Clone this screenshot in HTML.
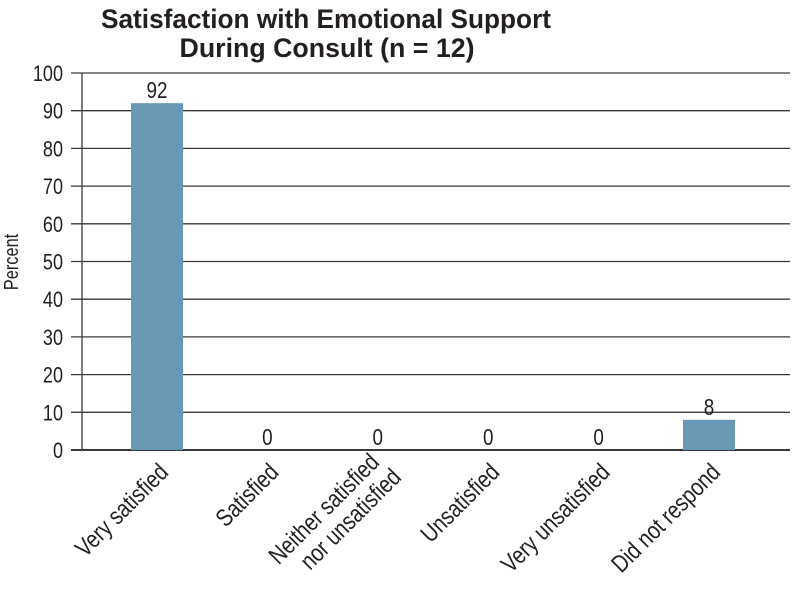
<!DOCTYPE html>
<html><head><meta charset="utf-8"><style>
body{margin:0;background:#fff;}
svg{display:block;font-family:"Liberation Sans",sans-serif;}
</style></head><body>
<svg id="chart" width="800" height="601" viewBox="0 0 800 601">
<g font-family="Liberation Sans, sans-serif" font-weight="bold" font-size="27" fill="#231f20" text-anchor="middle">
<text x="326" y="28" textLength="450" lengthAdjust="spacingAndGlyphs">Satisfaction with Emotional Support</text>
<text x="327" y="57" textLength="295" lengthAdjust="spacingAndGlyphs">During Consult (n = 12)</text>
</g>
<text transform="translate(18,262) rotate(-90) scale(0.82,1)" text-anchor="middle" font-size="20" fill="#231f20">Percent</text>
<g id="grid"></g><g id="bars"></g><g id="labels"></g>
</svg>
<script>
const categories=[["Very satisfied"],["Satisfied"],["Neither satisfied","nor unsatisfied"],["Unsatisfied"],["Very unsatisfied"],["Did not respond"]];
const values=[92,0,0,0,0,8];
const yTicks=[0,10,20,30,40,50,60,70,80,90,100];
const NS="http://www.w3.org/2000/svg";
const y0=450,y1=73,xL=82,xR=790,c0=157,step=110.4,bw=52;
const yS=v=>y0-(v/100)*(y0-y1);
const xS=i=>c0+i*step;
function mk(t,a,p){const e=document.createElementNS(NS,t);for(const k in a)e.setAttribute(k,a[k]);p.appendChild(e);return e;}
const grid=document.getElementById('grid'),bars=document.getElementById('bars'),labs=document.getElementById('labels');
yTicks.forEach(v=>{
  const l=mk('line',{x1:71,x2:xR,y1:yS(v),y2:yS(v),stroke:'#3a3a3a','stroke-width':v===0?2:1.3},grid);
  
  
  const t=mk('text',{transform:`translate(63,${yS(v)+8}) scale(0.82,1)`,'text-anchor':'end','font-size':22,fill:'#231f20'},grid);
  t.textContent=v;
  
  
});
const ax=mk('line',{x1:xL,x2:xL,y1:y1,y2:y0,stroke:'#3a3a3a','stroke-width':1.3},grid);


values.forEach((v,i)=>{
  const cx=xS(i);
  if(v>0){
    const r=mk('rect',{x:cx-bw/2,y:yS(v),width:bw,height:y0-yS(v),fill:'#6898b3'},bars);
    
    
  }
  const t=mk('text',{transform:`translate(${cx},${yS(v)-5}) scale(0.82,1)`,'text-anchor':'middle','font-size':23,fill:'#231f20'},bars);
  t.textContent=v;
  
  
  const lines=categories[i];
  const g=mk('g',{transform:`translate(${cx+7},468) rotate(-45) scale(0.82,1)`},labs);
  
  
  lines.forEach((s,j)=>{
    const tt=mk('text',{x:0,y:8,'text-anchor':'end','font-size':24.5,fill:'#231f20'},g);
    if(lines.length>1){tt.setAttribute('x',j===0?0:6);tt.setAttribute('y',j===0?-6:20);}
    tt.textContent=s;
  });
});
</script>
</body></html>
